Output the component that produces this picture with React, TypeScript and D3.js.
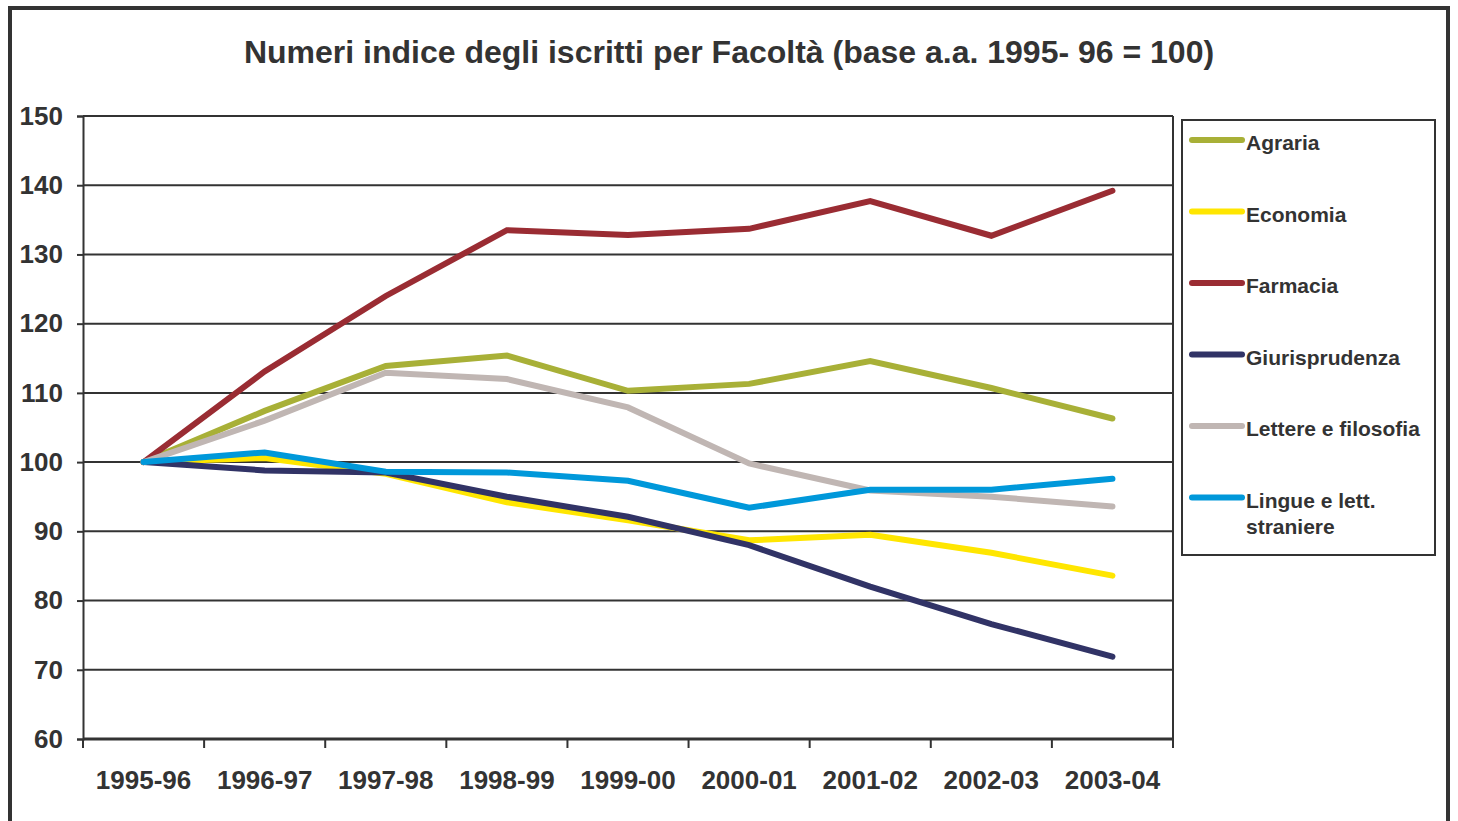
import React, { useEffect, useRef } from "react";
import * as d3 from "d3";

const years = ["1995-96", "1996-97", "1997-98", "1998-99", "1999-00", "2000-01", "2001-02", "2002-03", "2003-04"];

const agraria = [100, 107.4, 113.9, 115.4, 110.3, 111.3, 114.6, 110.7, 106.3];
const economia = [100, 100.6, 98.3, 94.2, 91.6, 88.7, 89.5, 86.9, 83.6];
const farmacia = [100, 113.1, 124.0, 133.5, 132.8, 133.7, 137.7, 132.7, 139.2];
const giurisprudenza = [100, 98.8, 98.5, 95.0, 92.1, 88.0, 82.0, 76.6, 71.9];
const lettere = [100, 106.0, 112.9, 112.0, 107.9, 99.8, 95.9, 95.0, 93.6];
const lingue = [100, 101.4, 98.6, 98.5, 97.3, 93.4, 96.0, 96.0, 97.6];

const seriesNames = ["Agraria", "Economia", "Farmacia", "Giurisprudenza", "Lettere e filosofia", "Lingue e lett. straniere"];
const seriesColors = ["#a8b037", "#ffe600", "#9a2c33", "#313366", "#c0b6b3", "#0098da"];
const yTicks = [60, 70, 80, 90, 100, 110, 120, 130, 140, 150];

const W = 1458;
const H = 821;
const FONT = "'Liberation Sans', Arial, sans-serif";
const INK = "#333333";

export default function App() {
  const svgRef = useRef<SVGSVGElement>(null);

  useEffect(() => {
    const svg = d3.select(svgRef.current);
    svg.selectAll("*").remove();

    const margin = { top: 116, right: 285, bottom: 82, left: 83 };
    const series = [agraria, economia, farmacia, giurisprudenza, lettere, lingue];

    // outer frame
    svg
      .append("rect")
      .attr("x", 10)
      .attr("y", 8)
      .attr("width", 1438)
      .attr("height", 818)
      .attr("fill", "#fff")
      .attr("stroke", INK)
      .attr("stroke-width", 4);

    svg
      .append("text")
      .attr("x", 729)
      .attr("y", 63)
      .attr("text-anchor", "middle")
      .style("font-family", FONT)
      .style("font-weight", "bold")
      .style("font-size", "32px")
      .attr("fill", INK)
      .text("Numeri indice degli iscritti per Facoltà (base a.a. 1995- 96 = 100)");

    const x = d3
      .scaleBand()
      .domain(years)
      .range([margin.left, W - margin.right]);

    const y = d3
      .scaleLinear()
      .domain([60, 150])
      .range([H - margin.bottom, margin.top]);

    // gridlines
    svg
      .append("g")
      .selectAll("line")
      .data(yTicks)
      .enter()
      .append("line")
      .attr("x1", margin.left)
      .attr("x2", W - margin.right)
      .attr("y1", (d) => y(d))
      .attr("y2", (d) => y(d))
      .attr("stroke", INK)
      .attr("stroke-width", (d) => (d === 60 ? 3 : 2));

    // right border of plot
    svg
      .append("line")
      .attr("x1", W - margin.right)
      .attr("x2", W - margin.right)
      .attr("y1", y(150))
      .attr("y2", y(60))
      .attr("stroke", INK)
      .attr("stroke-width", 2);

    // Y axis
    const yAxis = svg
      .append("g")
      .attr("transform", `translate(${margin.left},0)`)
      .call(d3.axisLeft(y).tickValues(yTicks).tickSize(6).tickPadding(14));
    yAxis.select(".domain").attr("stroke", INK).attr("stroke-width", 2);
    yAxis.selectAll(".tick line").attr("stroke", INK).attr("stroke-width", 2);
    yAxis
      .selectAll("text")
      .style("font-family", FONT)
      .style("font-weight", "bold")
      .style("font-size", "26px")
      .attr("fill", INK);

    // X axis: ticks at band boundaries
    const bounds = years.map((d) => x(d) as number).concat([W - margin.right]);
    svg
      .append("g")
      .selectAll("line")
      .data(bounds)
      .enter()
      .append("line")
      .attr("x1", (d) => d)
      .attr("x2", (d) => d)
      .attr("y1", y(60))
      .attr("y2", y(60) + 9)
      .attr("stroke", INK)
      .attr("stroke-width", 2);

    svg
      .append("g")
      .selectAll("text")
      .data(years)
      .enter()
      .append("text")
      .attr("x", (d) => (x(d) as number) + x.bandwidth() / 2)
      .attr("y", y(60) + 50)
      .attr("text-anchor", "middle")
      .style("font-family", FONT)
      .style("font-weight", "bold")
      .style("font-size", "26px")
      .attr("fill", INK)
      .text((d) => d);

    // lines
    const line = d3
      .line<number>()
      .x((_, i) => (x(years[i]) as number) + x.bandwidth() / 2)
      .y((d) => y(d));

    series.forEach((s, i) => {
      svg
        .append("path")
        .datum(s)
        .attr("d", line)
        .attr("fill", "none")
        .attr("stroke", seriesColors[i])
        .attr("stroke-width", 6)
        .attr("stroke-linecap", "round")
        .attr("stroke-linejoin", "miter");
    });

    // legend
    const legend = svg.append("g").attr("transform", "translate(1182,120)");
    legend
      .append("rect")
      .attr("width", 253)
      .attr("height", 435)
      .attr("fill", "#fff")
      .attr("stroke", INK)
      .attr("stroke-width", 2);

    seriesNames.forEach((name, i) => {
      const row = legend.append("g").attr("transform", `translate(0, ${20 + i * 71.5})`);
      row
        .append("line")
        .attr("x1", 10)
        .attr("x2", 60)
        .attr("stroke", seriesColors[i])
        .attr("stroke-width", 6)
        .attr("stroke-linecap", "round");
      const label = row
        .append("text")
        .attr("x", 64)
        .attr("y", 10)
        .style("font-family", FONT)
        .style("font-weight", "bold")
        .style("font-size", "21px")
        .attr("fill", INK);
      const parts = name === "Lingue e lett. straniere" ? ["Lingue e lett.", "straniere"] : [name];
      parts.forEach((p, k) => {
        label
          .append("tspan")
          .attr("x", 64)
          .attr("dy", k === 0 ? 0 : 26)
          .text(p);
      });
    });
  }, []);

  return (
    <div style={{ position: "fixed", left: 0, top: 0 }}>
      <svg ref={svgRef} width={W} height={H} style={{ display: "block" }} />
    </div>
  );
}
